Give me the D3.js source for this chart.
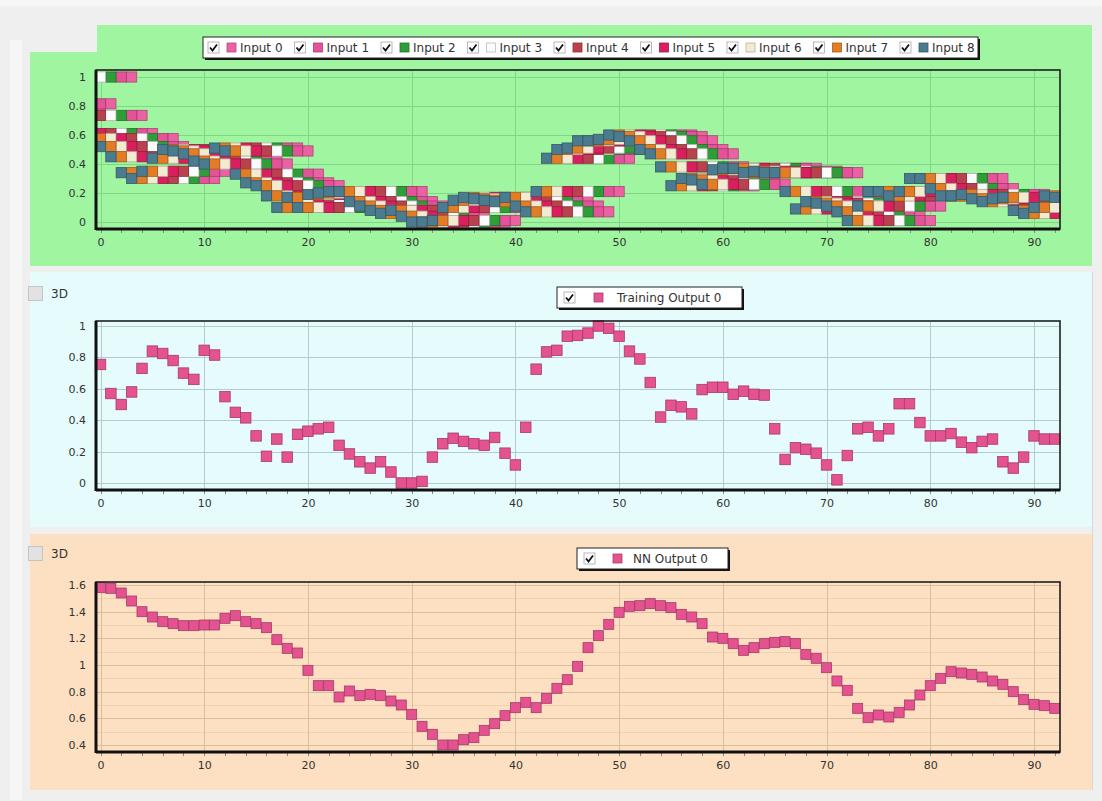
<!DOCTYPE html>
<html><head><meta charset="utf-8">
<script src="https://cdn.jsdelivr.net/npm/d3@7"></script>
<style>
html,body{margin:0;padding:0;background:#efefef;}
svg{display:block;font-family:"DejaVu Sans",Verdana,sans-serif;}
</style></head>
<body>
<svg id="chart" width="1102" height="801"></svg>
<script>
// ---------- DATA ----------
// x positions (sample index)
const sampleIndex = d3.range(0, 93);
const xTickValues = [0, 10, 20, 30, 40, 50, 60, 70, 80, 90];

// Input series are a sliding window over one normalised source series:
// Input k at sample x = sourceSeries[x + k]
const sourceSeries = [
  0.80, 0.815, 0.58, 1.00, 0.735, 0.61, 0.56, 0.575, 0.52, 0.45,
  0.34, 0.30, 0.35, 0.44, 0.50, 0.49, 0.47, 0.42, 0.40, 0.51,
  0.49, 0.33, 0.27, 0.25, 0.18, 0.10, 0.17, 0.10, 0.19, 0.20,
  0.21, 0.21, 0.14, 0.11, 0.08, 0.06, 0.08, 0.04, 0.00, 0.00,
  0.01, 0.10, 0.15, 0.17, 0.16, 0.15, 0.14, 0.17, 0.11, 0.07,
  0.21, 0.44, 0.50, 0.51, 0.56, 0.56, 0.57, 0.60, 0.59, 0.56,
  0.50, 0.47, 0.38, 0.25, 0.30, 0.29, 0.26, 0.36, 0.37, 0.37,
  0.34, 0.35, 0.34, 0.34, 0.21, 0.09, 0.14, 0.13, 0.11, 0.07,
  0.01, 0.11, 0.21, 0.21, 0.18, 0.21, 0.30, 0.30, 0.23, 0.18,
  0.18, 0.19, 0.16, 0.14, 0.16, 0.17, 0.08, 0.06, 0.10, 0.18,
  0.17
];
const inputNames = ["Input 0","Input 1","Input 2","Input 3","Input 4","Input 5","Input 6","Input 7","Input 8"];
const inputColors = ["#ea62a2","#e4529a","#2f9e38","#fbfbfb","#b9424e","#da1f5e","#f3ead2","#e27d26","#4b7b8e"];
const inputSeries = inputNames.map((n, k) => sampleIndex.map(x => sourceSeries[x + k]));

const trainingOutput = [
  0.755, 0.57, 0.50, 0.58, 0.73, 0.84, 0.825, 0.78, 0.70, 0.66,
  0.845, 0.815, 0.55, 0.45, 0.415, 0.30, 0.17, 0.28, 0.165, 0.31,
  0.33, 0.345, 0.355, 0.24, 0.185, 0.135, 0.095, 0.135, 0.07, 0.0,
  0.0, 0.01, 0.165, 0.25, 0.285, 0.265, 0.25, 0.24, 0.29, 0.19,
  0.115, 0.355, 0.725, 0.835, 0.845, 0.935, 0.94, 0.955, 1.0, 0.985,
  0.935, 0.84, 0.79, 0.64, 0.42, 0.495, 0.485, 0.44, 0.595, 0.61,
  0.61, 0.565, 0.585, 0.565, 0.56, 0.345, 0.15, 0.225, 0.215, 0.19,
  0.115, 0.02, 0.175, 0.345, 0.355, 0.30, 0.345, 0.505, 0.505, 0.385,
  0.30, 0.30, 0.315, 0.26, 0.225, 0.265, 0.28, 0.135, 0.095, 0.165,
  0.30, 0.28, 0.28
];
const nnOutput = [
  1.58, 1.575, 1.54, 1.48, 1.40, 1.36, 1.325, 1.31, 1.295, 1.295,
  1.30, 1.30, 1.35, 1.37, 1.325, 1.31, 1.28, 1.19, 1.125, 1.09,
  0.96, 0.845, 0.845, 0.76, 0.805, 0.77, 0.78, 0.77, 0.73, 0.70,
  0.63, 0.54, 0.48, 0.40, 0.40, 0.44, 0.455, 0.51, 0.56, 0.62,
  0.68, 0.72, 0.68, 0.75, 0.825, 0.89, 0.99, 1.13, 1.22, 1.305,
  1.395, 1.44, 1.445, 1.46, 1.445, 1.43, 1.38, 1.36, 1.31, 1.21,
  1.20, 1.16, 1.11, 1.13, 1.16, 1.17, 1.175, 1.16, 1.08, 1.05,
  0.98, 0.88, 0.81, 0.675, 0.605, 0.625, 0.61, 0.645, 0.70, 0.775,
  0.845, 0.90, 0.95, 0.94, 0.93, 0.91, 0.88, 0.855, 0.80, 0.74,
  0.705, 0.695, 0.675
];
const unitTicks = [0, 0.2, 0.4, 0.6, 0.8, 1];
const nnTicks = [0.4, 0.6, 0.8, 1, 1.2, 1.4, 1.6];
const outputColor = "#e4528f";

// ---------- DRAWING ----------
const svg = d3.select("#chart");
svg.append("rect").attr("width",1102).attr("height",801).attr("fill","#efefef");
svg.append("rect").attr("x",10).attr("y",40).attr("width",12).attr("height",760).attr("fill","#f6f6f6");
svg.append("rect").attr("x",0).attr("y",0).attr("width",1102).attr("height",6).attr("fill","#f7f7f7");

// panel backgrounds
svg.append("path").attr("d","M97,25 H1092 V266 H30 V52 H97 Z").attr("fill","#a0f5a0");
svg.append("rect").attr("x",30).attr("y",272).attr("width",1062).attr("height",255).attr("fill","#e6fcfc");
svg.append("rect").attr("x",30).attr("y",534).attr("width",1062).attr("height",256).attr("fill","#fde0c1");
svg.append("line").attr("x1",1092.5).attr("x2",1092.5).attr("y1",272).attr("y2",790).attr("stroke","#d8d8d8");

function panel(cfg) {
  const g = svg.append("g");
  const x = d3.scaleLinear().domain([0, 90]).range([100.5, 1034]);
  const y = d3.scaleLinear().domain(cfg.domain).range(cfg.yRange);
  if (cfg.minor) {
    g.append("g").selectAll("line").data(cfg.minor).join("line")
      .attr("x1", cfg.left).attr("x2", cfg.right)
      .attr("y1", d => Math.round(y(d)) + 0.5).attr("y2", d => Math.round(y(d)) + 0.5)
      .attr("stroke", cfg.minorColor).attr("stroke-width", 1);
  }
  g.append("g").selectAll("line").data(cfg.yTicks).join("line")
    .attr("x1", cfg.left).attr("x2", cfg.right)
    .attr("y1", d => Math.round(y(d)) + 0.5).attr("y2", d => Math.round(y(d)) + 0.5)
    .attr("stroke", cfg.gridColor).attr("stroke-width", 1);
  g.append("g").selectAll("line").data(xTickValues).join("line")
    .attr("y1", cfg.top).attr("y2", cfg.bottom)
    .attr("x1", d => Math.round(x(d)) + 0.5).attr("x2", d => Math.round(x(d)) + 0.5)
    .attr("stroke", cfg.gridColor).attr("stroke-width", 1);

  const yAxis = d3.axisLeft(y).tickValues(cfg.yTicks).tickSize(0).tickPadding(10)
    .tickFormat(d => d3.format("~g")(d));
  const ya = g.append("g").attr("transform", `translate(${cfg.left},0)`).call(yAxis);
  ya.select(".domain").remove();
  ya.selectAll("text").attr("font-size", 11).attr("fill", "#333").attr("font-family", "DejaVu Sans, Verdana, sans-serif");

  const xAxis = d3.axisBottom(x).tickValues(xTickValues).tickSize(0).tickPadding(9)
    .tickFormat(d3.format("d"));
  const xa = g.append("g").attr("transform", `translate(0,${cfg.bottom})`).call(xAxis);
  xa.select(".domain").remove();
  xa.selectAll("text").attr("font-size", 11).attr("fill", "#333").attr("font-family", "DejaVu Sans, Verdana, sans-serif");

  g.append("g").selectAll("line").data(d3.range(0, 93, 2)).join("line")
    .attr("x1", d => Math.round(x(d)) + 0.5).attr("x2", d => Math.round(x(d)) + 0.5)
    .attr("y1", cfg.bottom + 1).attr("y2", cfg.bottom + 4)
    .attr("stroke", "#888").attr("stroke-width", 1);

  const sz = cfg.size;
  cfg.series.forEach(s => {
    g.append("g").selectAll("rect").data(sampleIndex).join("rect")
      .attr("x", i => x(i) - sz / 2).attr("y", i => y(s.values[i]) - sz / 2)
      .attr("width", sz).attr("height", sz)
      .attr("fill", s.color)
      .attr("stroke", d3.color(s.color).darker(0.9))
      .attr("stroke-width", 0.8);
  });

  g.append("rect").attr("x", cfg.left).attr("y", cfg.top)
    .attr("width", cfg.right - cfg.left).attr("height", cfg.bottom - cfg.top)
    .attr("fill", "none").attr("stroke", "#1e1e1e").attr("stroke-width", 1.6);
  g.append("line").attr("x1", cfg.left).attr("x2", cfg.left).attr("y1", cfg.top).attr("y2", cfg.bottom + 1)
    .attr("stroke", "#111").attr("stroke-width", 3);
  g.append("line").attr("x1", cfg.left).attr("x2", cfg.right).attr("y1", cfg.bottom).attr("y2", cfg.bottom)
    .attr("stroke", "#111").attr("stroke-width", 3);
  return g;
}

function checkMark(g, left, cy) {
  const cx = left + 5.5;
  g.append("rect").attr("x", left).attr("y", cy - 5.5).attr("width", 11).attr("height", 11)
    .attr("fill", "#fff").attr("stroke", "#a8a8a8").attr("stroke-width", 0.8);
  g.append("path").attr("d", `M${cx-3.5},${cy} L${cx-1},${cy+3} L${cx+3.5},${cy-3}`)
    .attr("fill", "none").attr("stroke", "#111").attr("stroke-width", 1.8);
}

function legend(x0, y0, w, h, items, lay) {
  const g = svg.append("g");
  g.append("rect").attr("x", x0 + 2).attr("y", y0 + 2).attr("width", w).attr("height", h).attr("fill", "#111");
  g.append("rect").attr("x", x0).attr("y", y0).attr("width", w).attr("height", h)
    .attr("fill", "#fff").attr("stroke", "#222").attr("stroke-width", 1);
  items.forEach((it, i) => {
    const left = x0 + lay.start + i * lay.step;
    const cy = y0 + h / 2;
    checkMark(g, left, cy);
    g.append("rect").attr("x", left + lay.sq).attr("y", cy - 4.5).attr("width", 9).attr("height", 9)
      .attr("fill", it.color).attr("stroke", d3.color(it.color).darker(0.8)).attr("stroke-width", 0.8);
    g.append("text").attr("x", left + lay.tx).attr("y", cy + 4.5).text(it.name)
      .attr("font-size", 12).attr("fill", "#333");
  });
}

function check3D(y0) {
  svg.append("rect").attr("x", 28.5).attr("y", y0 + 0.5).attr("width", 14).attr("height", 14)
    .attr("fill", "#e2e2e2").attr("stroke", "#c4c4c4");
  svg.append("text").attr("x", 51).attr("y", y0 + 12).text("3D").attr("font-size", 12).attr("fill", "#333");
}

// Top panel: inputs
panel({
  left: 96, right: 1060, top: 70, bottom: 229,
  domain: [0, 1], yRange: [222, 77], yTicks: unitTicks,
  gridColor: "#84d488", size: 10.2,
  series: inputSeries.map((v, k) => ({ values: v, color: inputColors[k] }))
});
legend(203, 37, 775, 21, inputNames.map((n, k) => ({ name: n, color: inputColors[k] })),
  { start: 5, step: 86.5, sq: 19, tx: 32 });

// Middle panel: training output
check3D(286);
panel({
  left: 96, right: 1060, top: 321, bottom: 490,
  domain: [0, 1], yRange: [483, 326], yTicks: unitTicks,
  gridColor: "#b6cccc", size: 10.5,
  series: [{ values: trainingOutput, color: outputColor }]
});
legend(557, 287, 185, 21, [{ name: "Training Output 0", color: outputColor }],
  { start: 7, step: 0, sq: 30, tx: 53 });

// Bottom panel: NN output
check3D(546);
panel({
  left: 96, right: 1060, top: 582, bottom: 752,
  domain: [0.4, 1.6], yRange: [745, 585], yTicks: nnTicks,
  minor: [0.5, 0.7, 0.9, 1.1, 1.3, 1.5], minorColor: "#f0d2b2",
  gridColor: "#d8bea0", size: 10,
  series: [{ values: nnOutput, color: outputColor }]
});
legend(577, 548, 151, 21, [{ name: "NN Output 0", color: outputColor }],
  { start: 7, step: 0, sq: 29, tx: 49 });
</script>
</body></html>
